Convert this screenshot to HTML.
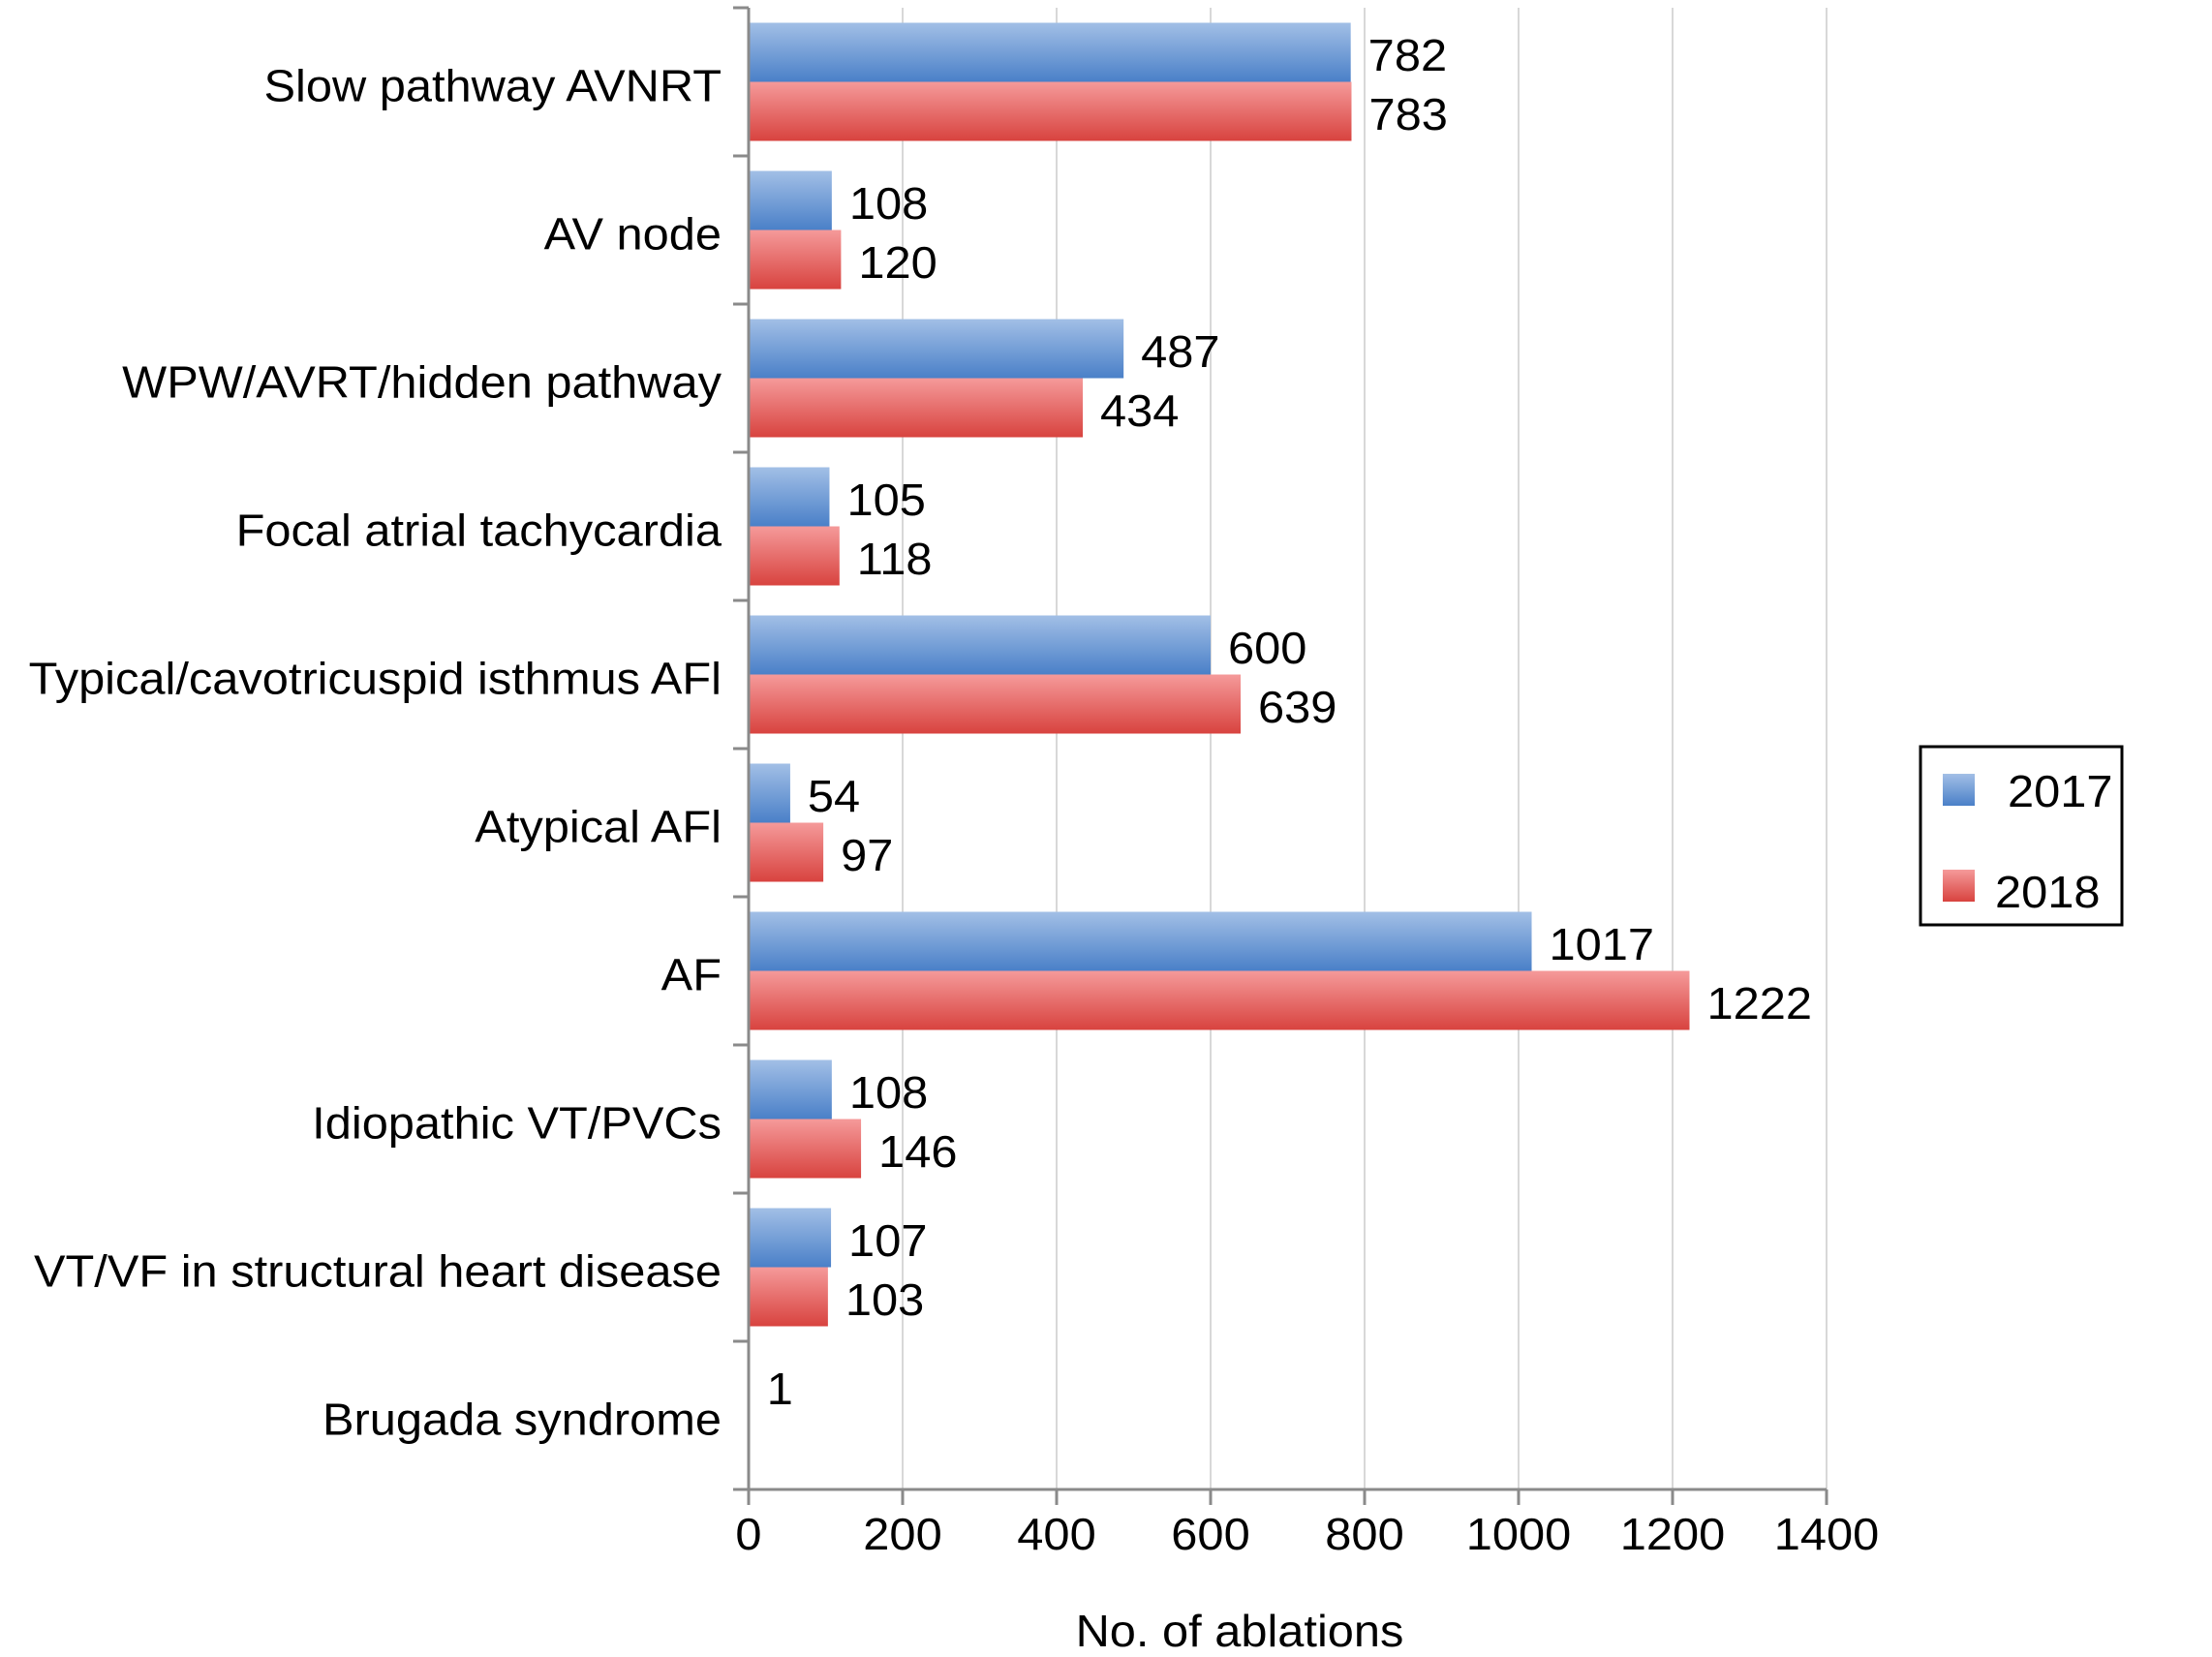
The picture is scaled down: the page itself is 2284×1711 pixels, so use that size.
<!DOCTYPE html>
<html><head><meta charset="utf-8"><style>
html,body{margin:0;padding:0;background:#fff;}
svg{display:block;font-family:"Liberation Sans",Arial,sans-serif;}
</style></head><body>
<svg id="chart" width="2284" height="1711" viewBox="0 0 2284 1711" xmlns="http://www.w3.org/2000/svg">
<defs>
<linearGradient id="gBlue" x1="0" y1="0" x2="0" y2="1"><stop offset="0" stop-color="#a2bfe6"/><stop offset="1" stop-color="#4a80c8"/></linearGradient>
<linearGradient id="gRed" x1="0" y1="0" x2="0" y2="1"><stop offset="0" stop-color="#f59a9a"/><stop offset="1" stop-color="#d8433f"/></linearGradient>
</defs>
<g id="grid"></g>
<g id="bars"></g>
<g id="axes"></g>
<g id="labels"></g>
<g>
<rect x="1983" y="771" width="208" height="184" fill="#fff" stroke="#000" stroke-width="3"/>
<rect x="2006" y="799" width="33" height="33" fill="url(#gBlue)"/>
<text x="2073" y="833" font-size="46">2017</text>
<rect x="2006" y="898" width="33" height="33" fill="url(#gRed)"/>
<text x="2060" y="937" font-size="46">2018</text>
</g>
<text x="1280" y="1700" font-size="46" text-anchor="middle">No. of ablations</text>
</svg>
<script>
const categories = ["Slow pathway AVNRT","AV node","WPW/AVRT/hidden pathway","Focal atrial tachycardia","Typical/cavotricuspid isthmus AFl","Atypical AFl","AF","Idiopathic VT/PVCs","VT/VF in structural heart disease","Brugada syndrome"];
const values2017 = [782,108,487,105,600,54,1017,108,107,1];
const values2018 = [783,120,434,118,639,97,1222,146,103,0];
const labels2018 = ["783","120","434","118","639","97","1222","146","103",""];
const xTicks = [0,200,400,600,800,1000,1200,1400];

const NS = "http://www.w3.org/2000/svg";
const X0 = 773, X1 = 1886, XMAX = 1400;
const Y0 = 8, Y1 = 1538;
const band = (Y1 - Y0) / categories.length;
function xs(v){ return X0 + (X1 - X0) * v / XMAX; }
function mk(tag, attrs, parent){ const e = document.createElementNS(NS, tag); for (const k in attrs) e.setAttribute(k, attrs[k]); parent.appendChild(e); return e; }
const grid = document.getElementById('grid'), bars = document.getElementById('bars'), axes = document.getElementById('axes'), labels = document.getElementById('labels');

xTicks.forEach(t => {
  if (t > 0) {
    const g = mk('line', {x1: xs(t), x2: xs(t), y1: Y0, y2: Y1, stroke: '#d8d8d8', 'stroke-width': 2}, grid);
    
    
  }
  const tk = mk('line', {x1: xs(t), x2: xs(t), y1: Y1, y2: Y1 + 16, stroke: '#8a8a8a', 'stroke-width': 3}, axes);
  
  
  const tl = mk('text', {x: xs(t), y: 1600, 'font-size': 46, 'text-anchor': 'middle'}, labels);
  tl.textContent = t;
  
  
});

const yAx = mk('line', {x1: X0, x2: X0, y1: Y0, y2: Y1, stroke: '#8a8a8a', 'stroke-width': 3}, axes);


const xAx = mk('line', {x1: X0 - 16, x2: X1, y1: Y1, y2: Y1, stroke: '#8a8a8a', 'stroke-width': 3}, axes);



for (let i = 0; i <= categories.length; i++) {
  const y = Y0 + i * band;
  const t = mk('line', {x1: X0 - 16, x2: X0, y1: y, y2: y, stroke: '#8a8a8a', 'stroke-width': 3}, axes);
  
  
}

const barH = 61, pad = (band - 2 * barH) / 2;
categories.forEach((c, i) => {
  const top = Y0 + i * band + pad;
  const b1 = mk('rect', {x: X0, y: top, width: xs(values2017[i]) - X0, height: barH, fill: 'url(#gBlue)'}, bars);
  
  
  const b2 = mk('rect', {x: X0, y: top + barH, width: xs(values2018[i]) - X0, height: barH, fill: 'url(#gRed)'}, bars);
  
  
  const v1 = mk('text', {x: xs(values2017[i]) + 18, y: top + barH / 2 + 19, 'font-size': 46}, labels);
  v1.textContent = values2017[i];
  
  
  const v2 = mk('text', {x: xs(values2018[i]) + 18, y: top + barH * 1.5 + 19, 'font-size': 46}, labels);
  v2.textContent = labels2018[i];
  
  
  const cl = mk('text', {x: 745, y: Y0 + i * band + band / 2 + 20, 'font-size': 46, 'text-anchor': 'end'}, labels);
  cl.textContent = c;
  
  
});

document.querySelectorAll('svg text').forEach(t => {
  const w = t.getComputedTextLength();
  if (w > 0) { t.setAttribute('textLength', (w * 1.06).toFixed(1)); t.setAttribute('lengthAdjust', 'spacingAndGlyphs'); }
});
</script>
</body></html>
